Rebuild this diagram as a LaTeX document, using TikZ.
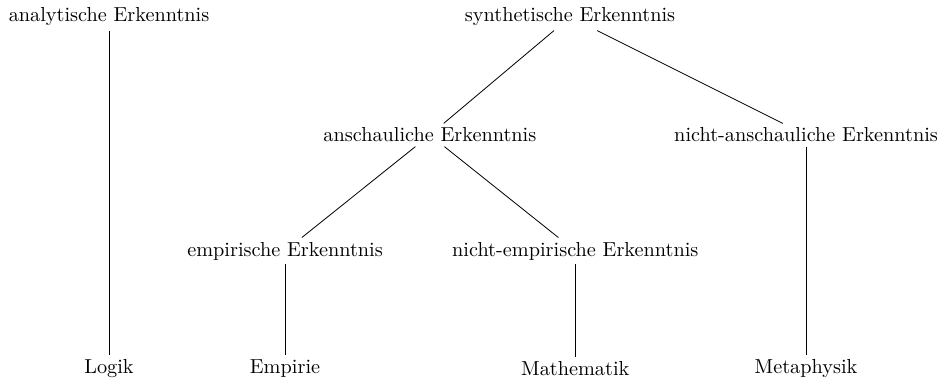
\documentclass[tikz,border=0pt]{standalone}
\usepackage{tikz}
\usetikzlibrary{positioning}

\begin{document}
\begin{tikzpicture}[font=\normalsize,
  leaf/.style={inner sep=2pt},
  edge/.style={thin}]
\useasboundingbox (0,0) rectangle (16.43,-6.57);

% top level
\node[leaf] (analyt) at (1.89,-0.295) {analytische Erkenntnis};
\node[leaf] (synth)  at (9.88,-0.295) {synthetische Erkenntnis};

% second level
\node[leaf] (ansch)     at (7.45,-2.34)  {anschauliche Erkenntnis};
\node[leaf] (nichtansch) at (13.97,-2.34) {nicht-anschauliche Erkenntnis};

% third level
\node[leaf] (empir)    at (4.94,-4.35) {empirische Erkenntnis};
\node[leaf] (nichtemp) at (9.97,-4.35) {nicht-empirische Erkenntnis};

% bottom row
\node[leaf] (logik)  at (1.89,-6.38)  {Logik};
\node[leaf] (empirie) at (4.94,-6.38) {Empirie};
\node[leaf] (mathe)  at (9.97,-6.38)  {Mathematik};
\node[leaf] (meta)   at (13.97,-6.38) {Metaphysik};

% edges
\draw[edge] (analyt) -- (logik);
\draw[edge] (synth) -- (ansch);
\draw[edge] (synth) -- (nichtansch);
\draw[edge] (ansch) -- (empir);
\draw[edge] (ansch) -- (nichtemp);
\draw[edge] (empir) -- (empirie);
\draw[edge] (nichtemp) -- (mathe);
\draw[edge] (nichtansch) -- (meta);
\end{tikzpicture}
\end{document}
